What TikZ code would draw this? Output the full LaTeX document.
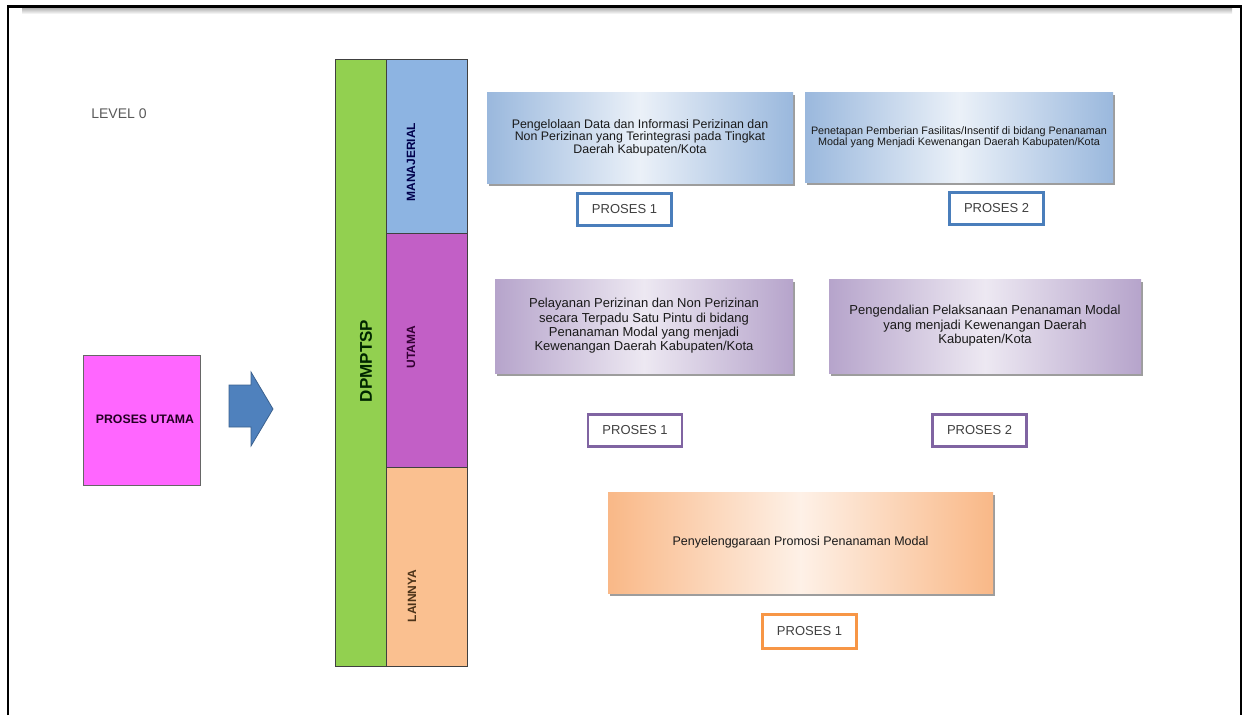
\documentclass[tikz,border=0pt]{standalone}
\usepackage{fontspec}
\setmainfont{Liberation Sans}
\usepackage{tikz}
\usetikzlibrary{
positioning,
shadows
}
\definecolor{lanegreen}{HTML}{92D050}
\definecolor{laneblue}{HTML}{8DB4E2}
\definecolor{lanepurple}{HTML}{C25FC6}
\definecolor{laneorange}{HTML}{FAC090}
\definecolor{mainpink}{HTML}{FF66FF}
\definecolor{arrowblue}{HTML}{4F81BD}
\definecolor{boxblue}{HTML}{9AB8DD}
\definecolor{boxpurple}{HTML}{B6A4CB}
\definecolor{boxorange}{HTML}{F9B887}
\definecolor{edgeblue}{HTML}{4A7EBB}
\definecolor{edgepurple}{HTML}{8064A2}
\definecolor{edgeorange}{HTML}{F79646}
\definecolor{textgray}{HTML}{404040}

\begin{document}
\begin{tikzpicture}[
x=1pt, y=-1pt,
lane/.style={
rectangle,
draw=black!75,
line width=1pt,
inner sep=0pt
},
lanelabel/.style={
rotate=90,
font=\bfseries\fontsize{12}{14}\selectfont,
inner sep=0pt
},
taskbox/.style={
rectangle,
inner sep=2pt,
align=center,
text=black!90,
drop shadow={shadow xshift=2pt, shadow yshift=-3pt, fill=black!55, opacity=0.7}
},
proses/.style={
rectangle,
fill=white,
line width=2.5pt,
minimum width=94pt,
minimum height=32pt,
text=textgray,
font=\fontsize{13}{15}\selectfont
}
]

\useasboundingbox (0,0) rectangle (1247,715);

% frame
\shade[top color=black!30, bottom color=white] (22,8) rectangle (1232,14);
\draw[line width=2.5pt] (8,715) -- (8,6.5) -- (1241,6.5) -- (1241,715);

\node[text=black!65, font=\fontsize{14}{16}\selectfont] (level) at (119,114) {LEVEL 0};

% main process and arrow
\node[rectangle, draw=black!60, fill=mainpink, minimum width=117pt, minimum height=130pt] (utama) at (141.5,420) {};
\node[font=\bfseries\fontsize{12.3}{14}\selectfont, text=black!60!violet!70!black] (utamatext) at (145,419) {PROSES UTAMA};
\filldraw[fill=arrowblue, draw=arrowblue!75!black, line width=0.8pt]
(229,385) -- (251,385) -- (251,372) -- (273,409) -- (251,446) -- (251,427) -- (229,427) -- cycle;

% lanes
\node[lane, fill=lanegreen, minimum width=51pt, minimum height=607pt] (dpm) at (360.5,362.5) {};
\node[lane, fill=laneblue, minimum width=81pt, minimum height=174pt] (manajerial) at (426.5,146) {};
\node[lane, fill=lanepurple, minimum width=81pt, minimum height=234pt] (utamalane) at (426.5,350) {};
\node[lane, fill=laneorange, minimum width=81pt, minimum height=199pt] (lainnya) at (426.5,566.5) {};

\node[lanelabel, font=\bfseries\fontsize{17}{19}\selectfont, text=black!85!green] at (366,361) {DPMPTSP};
\node[lanelabel, text=blue!30!black] at (411,162) {MANAJERIAL};
\node[lanelabel, text=violet!40!black] at (411,347) {UTAMA};
\node[lanelabel, text=brown!40!black] at (412,596) {LAINNYA};

% manajerial
\node[taskbox, left color=boxblue, right color=boxblue, middle color=boxblue!20,
minimum width=306pt, minimum height=91pt, font=\fontsize{12.4}{11.5}\selectfont] (mj1) at (640,137.5)
{Pengelolaan Data dan Informasi Perizinan dan\\Non Perizinan yang Terintegrasi pada Tingkat\\Daerah Kabupaten/Kota};
\node[taskbox, left color=boxblue, right color=boxblue, middle color=boxblue!20,
minimum width=308pt, minimum height=90pt, font=\fontsize{10.8}{11.5}\selectfont] (mj2) at (959,137)
{Penetapan Pemberian Fasilitas/Insentif di bidang Penanaman\\Modal yang Menjadi Kewenangan Daerah Kabupaten/Kota};
\node[proses, draw=edgeblue, below=9pt of mj1, xshift=-15.5pt] (pmj1) {PROSES 1};
\node[proses, draw=edgeblue, below=9pt of mj2, xshift=37.5pt] (pmj2) {PROSES 2};

% utama
\node[taskbox, left color=boxpurple, right color=boxpurple, middle color=boxpurple!25,
minimum width=298pt, minimum height=94pt, font=\fontsize{13}{14.3}\selectfont] (ut1) at (644,326)
{Pelayanan Perizinan dan Non Perizinan\\secara Terpadu Satu Pintu di bidang\\Penanaman Modal yang menjadi\\Kewenangan Daerah Kabupaten/Kota};
\node[taskbox, left color=boxpurple, right color=boxpurple, middle color=boxpurple!25,
minimum width=312pt, minimum height=94pt, font=\fontsize{13}{14.5}\selectfont] (ut2) at (985,326)
{Pengendalian Pelaksanaan Penanaman Modal\\yang menjadi Kewenangan Daerah\\Kabupaten/Kota};
\node[proses, draw=edgepurple, below=40pt of ut1, xshift=-9pt] (put1) {PROSES 1};
\node[proses, draw=edgepurple, below=40pt of ut2, xshift=-5.5pt] (put2) {PROSES 2};

% lainnya
\node[taskbox, left color=boxorange, right color=boxorange, middle color=boxorange!20,
minimum width=385pt, minimum height=101pt, font=\fontsize{12.5}{14}\selectfont] (ln1) at (800.5,542.5)
{Penyelenggaraan Promosi Penanaman Modal};
\node[proses, draw=edgeorange, minimum height=34pt, below=20pt of ln1, xshift=9pt] (pln1) {PROSES 1};

\end{tikzpicture}
\end{document}
